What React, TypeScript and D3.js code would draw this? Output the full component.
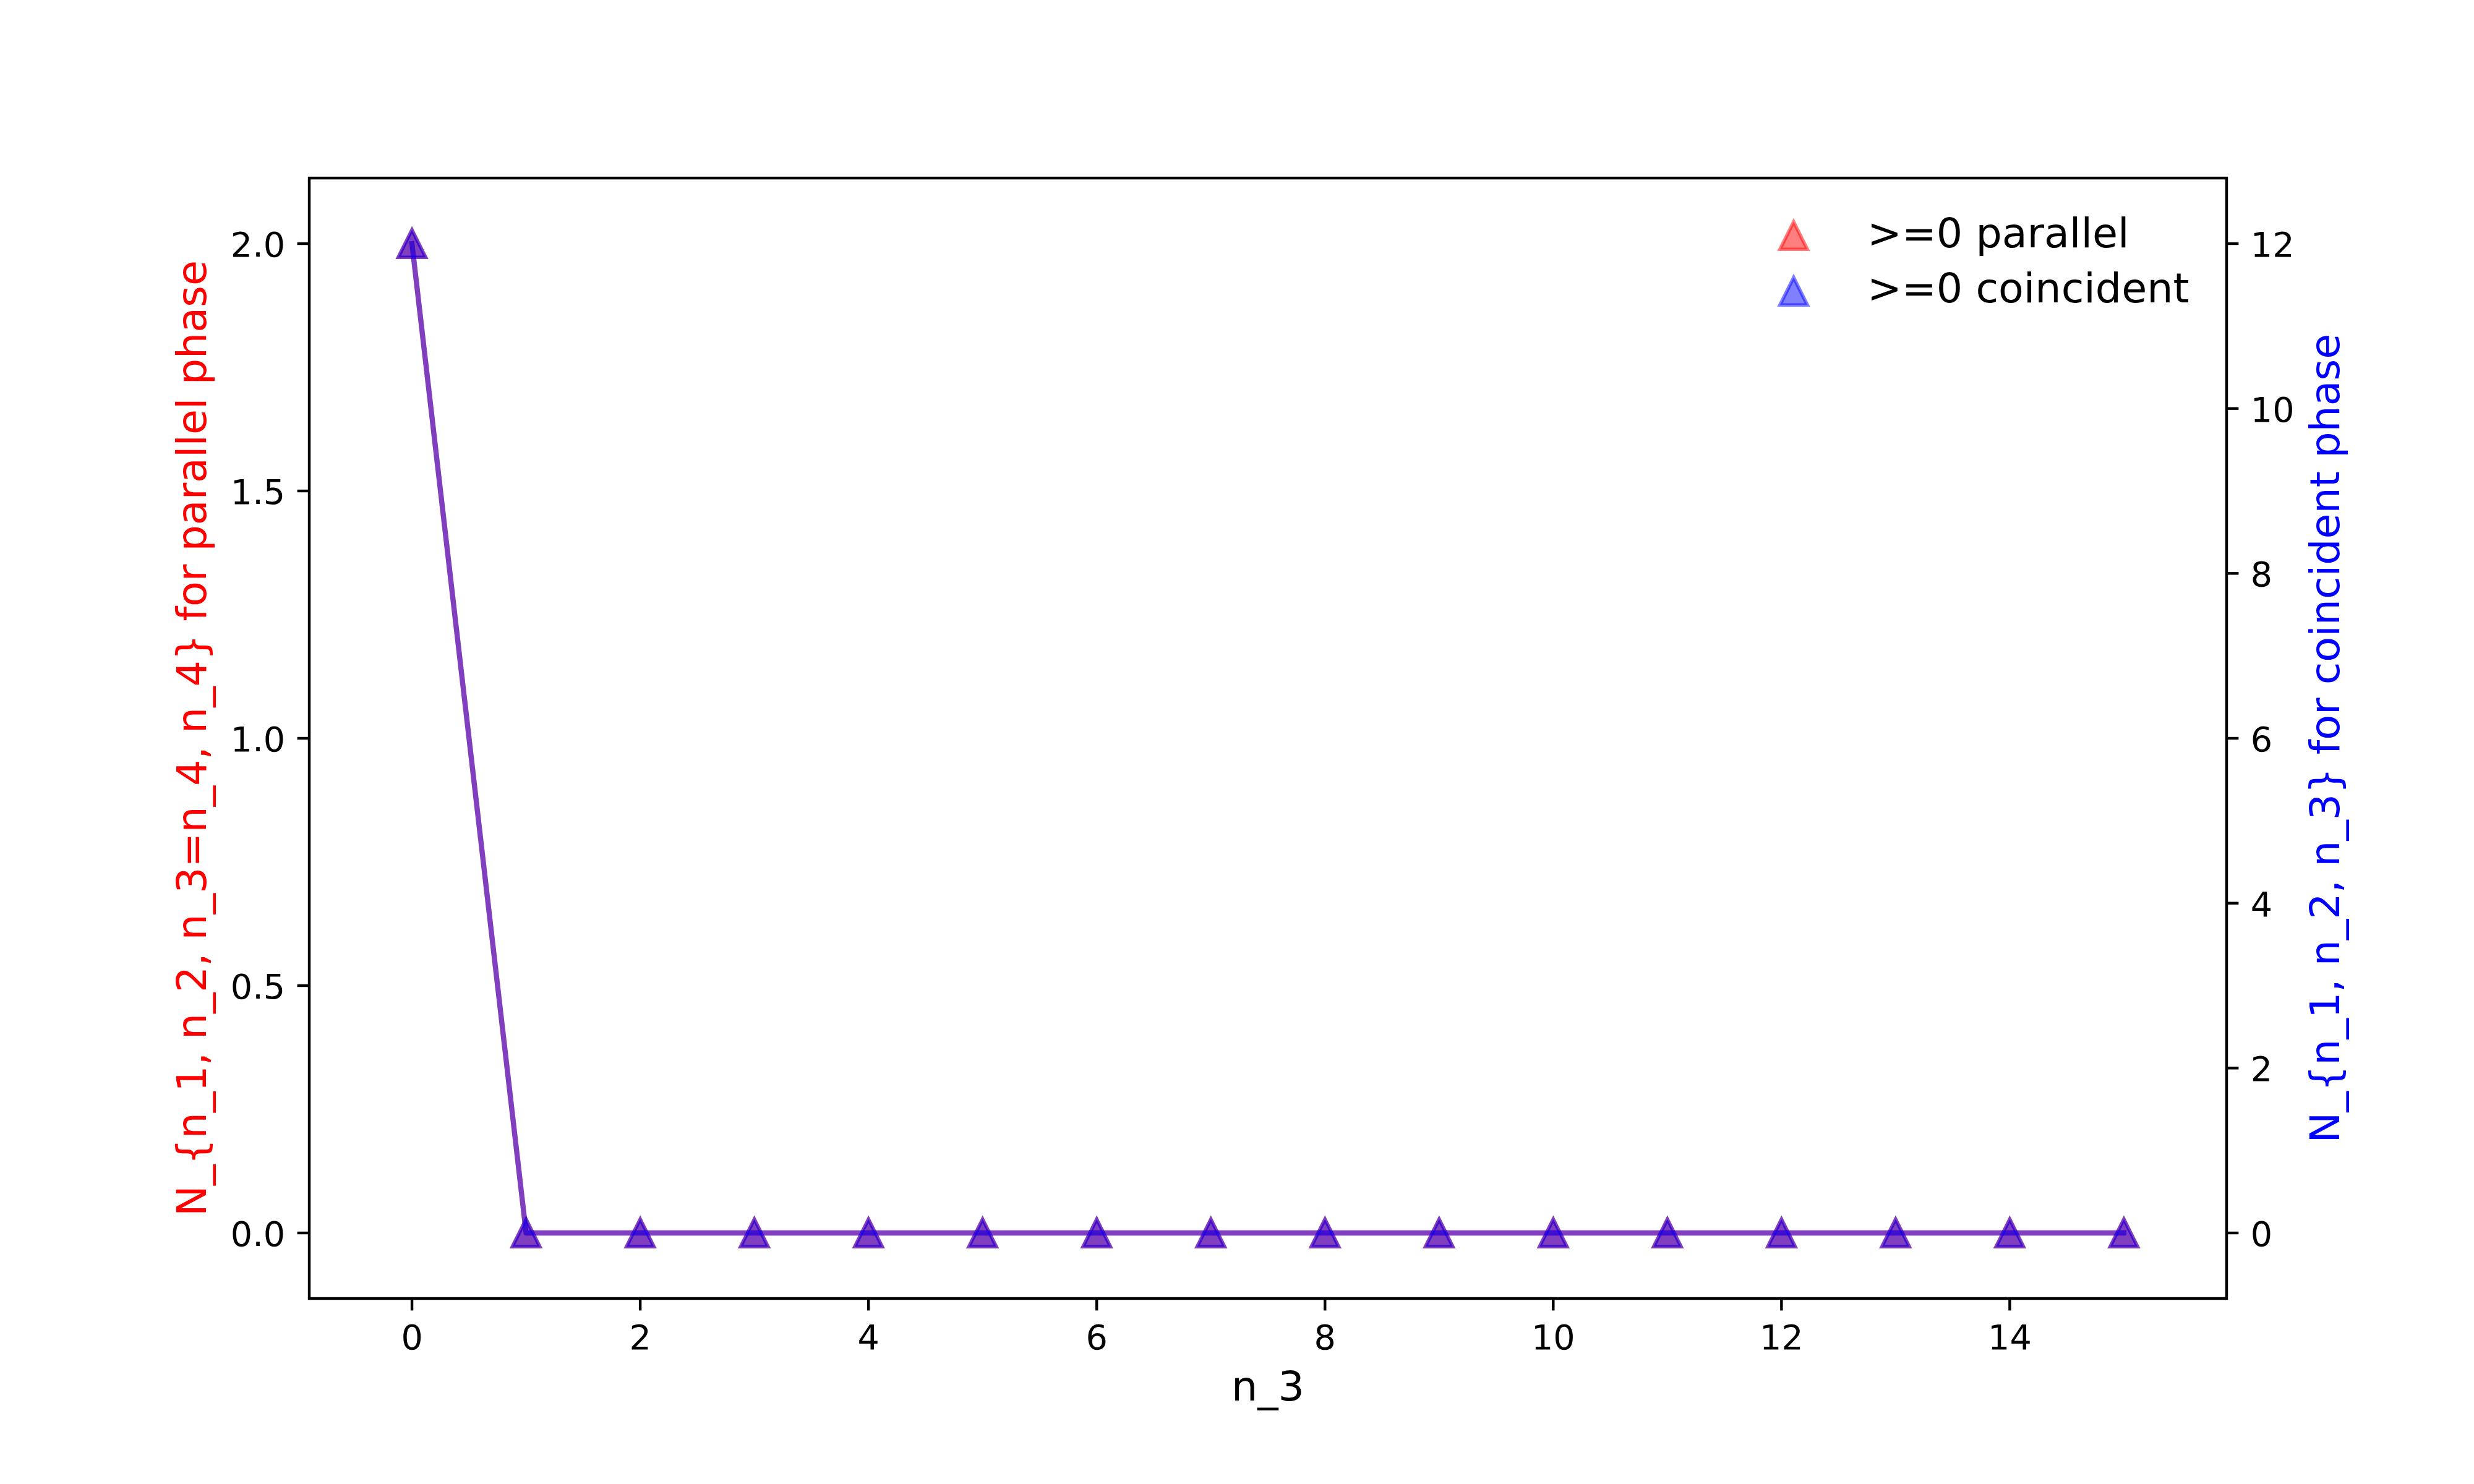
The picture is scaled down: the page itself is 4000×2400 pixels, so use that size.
import React from "react";
import * as d3 from "d3";

// data
const n3 = [0, 1, 2, 3, 4, 5, 6, 7, 8, 9, 10, 11, 12, 13, 14, 15];
const parallelCounts = [2, 0, 0, 0, 0, 0, 0, 0, 0, 0, 0, 0, 0, 0, 0, 0];
const coincidentCounts = [12, 0, 0, 0, 0, 0, 0, 0, 0, 0, 0, 0, 0, 0, 0, 0];

const xTicks = [0, 2, 4, 6, 8, 10, 12, 14];
const leftTicks = [0, 0.5, 1.0, 1.5, 2.0];
const rightTicks = [0, 2, 4, 6, 8, 10, 12];

const legendLabels = [">=0 parallel", ">=0 coincident"];
const seriesColors = ["red", "blue"];

export default function App() {
  const W = 4000;
  const H = 2400;
  const margin = { left: 500, right: 400, top: 288, bottom: 300 };
  const x0 = margin.left;
  const x1 = W - margin.right;
  const y0 = margin.top;
  const y1 = H - margin.bottom;

  const x = d3.scaleLinear().domain([-0.9, 15.9]).range([x0, x1]);
  const yL = d3.scaleLinear().domain([-0.1325, 2.1325]).range([y1, y0]);
  const yR = d3.scaleLinear().domain([-0.795, 12.795]).range([y1, y0]);

  const font = "DejaVu Sans";
  const tickFs = 55.6;
  const labelFs = 66.7;
  const tickLen = 19.4;
  const tickW = 4.4;
  const lw = 8.33;
  const ms = 44.4;
  const mew = 5.56;

  const tri = (s: number) => `M0,${-s / 2}L${-s / 2},${s / 2}L${s / 2},${s / 2}Z`;

  const lineL = d3
    .line<number>()
    .x((_, i) => x(n3[i]))
    .y((d) => yL(d));
  const lineR = d3
    .line<number>()
    .x((_, i) => x(n3[i]))
    .y((d) => yR(d));

  const series = [
    { vals: parallelCounts, line: lineL, y: yL, color: seriesColors[0] },
    { vals: coincidentCounts, line: lineR, y: yR, color: seriesColors[1] },
  ];

  return (
    <svg
      width={W}
      height={H}
      style={{ position: "absolute", left: 0, top: 0, background: "white" }}
      fontFamily={font}
    >
      <rect x={0} y={0} width={W} height={H} fill="white" />

      {/* series: line then markers, left axis first, twin axis on top */}
      {series.map((s, si) => (
        <g key={si}>
          <path
            d={s.line(s.vals) || ""}
            fill="none"
            stroke={s.color}
            strokeOpacity={0.5}
            strokeWidth={lw}
            strokeLinejoin="round"
            strokeLinecap="square"
          />
          {s.vals.map((v, i) => (
            <path
              key={i}
              d={tri(ms)}
              transform={`translate(${x(n3[i])},${s.y(v)})`}
              fill={s.color}
              fillOpacity={0.5}
              stroke={s.color}
              strokeOpacity={0.5}
              strokeWidth={mew}
              strokeLinejoin="miter"
            />
          ))}
        </g>
      ))}

      {/* frame */}
      <rect
        x={x0}
        y={y0}
        width={x1 - x0}
        height={y1 - y0}
        fill="none"
        stroke="black"
        strokeWidth={tickW}
        strokeLinejoin="miter"
      />

      {/* x axis */}
      {xTicks.map((t) => (
        <g key={t}>
          <line x1={x(t)} x2={x(t)} y1={y1} y2={y1 + tickLen} stroke="black" strokeWidth={tickW} />
          <text x={x(t)} y={2182} fontSize={tickFs} textAnchor="middle">
            {t}
          </text>
        </g>
      ))}
      <text x={(x0 + x1) / 2} y={2265} fontSize={labelFs} textAnchor="middle">
        n_3
      </text>

      {/* left axis */}
      {leftTicks.map((t) => (
        <g key={t}>
          <line x1={x0 - tickLen} x2={x0} y1={yL(t)} y2={yL(t)} stroke="black" strokeWidth={tickW} />
          <text x={x0 - 2 * tickLen} y={yL(t) + 21} fontSize={tickFs} textAnchor="end">
            {d3.format(".1f")(t)}
          </text>
        </g>
      ))}
      <text
        transform={`translate(333,${(y0 + y1) / 2}) rotate(-90)`}
        fontSize={labelFs}
        textAnchor="middle"
        fill="red"
      >
        {"N_{n_1, n_2, n_3=n_4, n_4} for parallel phase"}
      </text>

      {/* right axis */}
      {rightTicks.map((t) => (
        <g key={t}>
          <line x1={x1} x2={x1 + tickLen} y1={yR(t)} y2={yR(t)} stroke="black" strokeWidth={tickW} />
          <text x={x1 + 2 * tickLen} y={yR(t) + 21} fontSize={tickFs} textAnchor="start">
            {t}
          </text>
        </g>
      ))}
      <text
        transform={`translate(3782,${(y0 + y1) / 2}) rotate(-90)`}
        fontSize={labelFs}
        textAnchor="middle"
        fill="blue"
      >
        {"N_{n_1, n_2, n_3} for coincident phase"}
      </text>

      {/* legend, no frame */}
      {legendLabels.map((lab, i) => (
        <g key={lab}>
          <path
            d={tri(ms)}
            transform={`translate(2900,${381 + i * 90})`}
            fill={seriesColors[i]}
            fillOpacity={0.5}
            stroke={seriesColors[i]}
            strokeOpacity={0.5}
            strokeWidth={mew}
          />
          <text x={3019} y={400 + i * 89} fontSize={labelFs}>
            {lab}
          </text>
        </g>
      ))}
    </svg>
  );
}
